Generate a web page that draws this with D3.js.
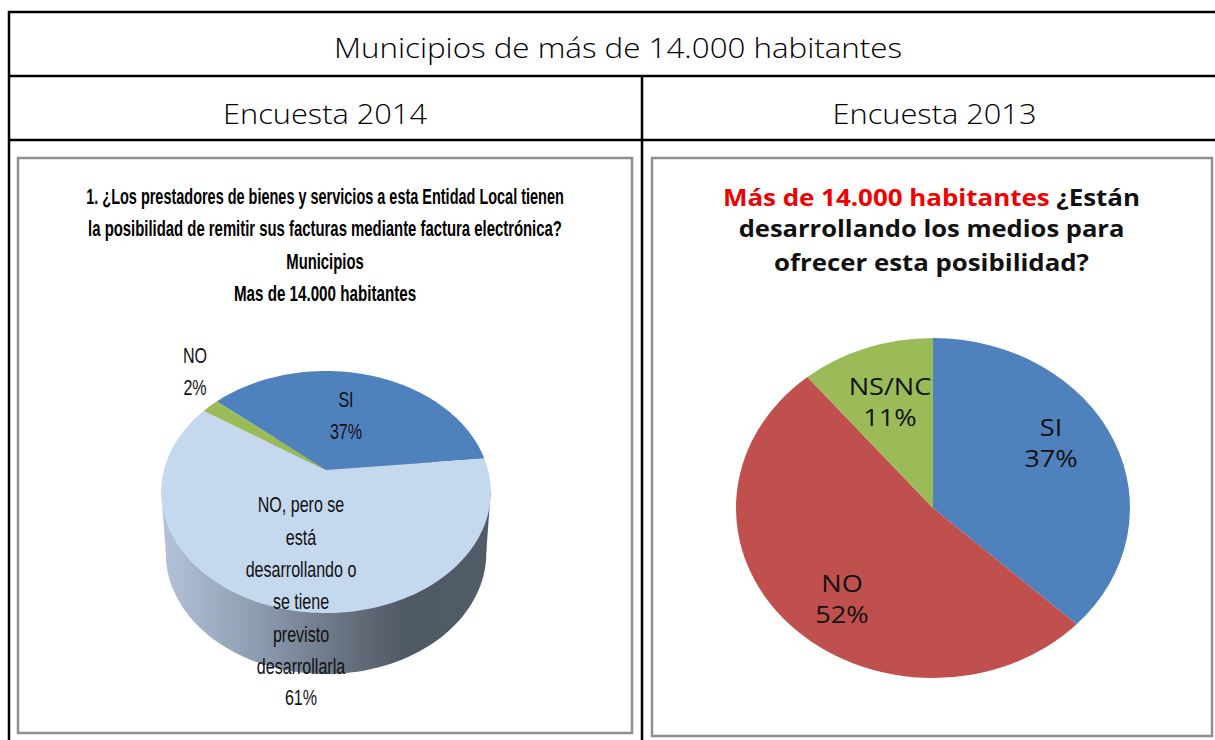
<!DOCTYPE html>
<html><head><meta charset="utf-8">
<script src="https://cdn.jsdelivr.net/npm/d3@7"></script>
<style>html,body{margin:0;padding:0;background:#fff;overflow:hidden}svg{display:block}</style>
</head><body><svg id="c" width="1215" height="740"></svg>
<script>
const heading = "Municipios de más de 14.000 habitantes";
const columns = ["Encuesta 2014", "Encuesta 2013"];
const leftTitle = ["1. ¿Los prestadores de bienes y servicios a esta Entidad Local tienen",
  "la posibilidad de remitir sus facturas mediante factura electrónica?", "Municipios", "Mas de 14.000 habitantes"];
const leftCategories = ["SI", "NO, pero se está desarrollando o se tiene previsto desarrollarla", "NO"];
const leftValues = [37, 61, 2];
const leftColors = ["#4f81bd", "#c4d8ee", "#9bbb59"];
const rightCategories = ["SI", "NO", "NS/NC"];
const rightValues = [37, 52, 11];
const rightColors = ["#4f81bd", "#c0504d", "#9bbb59"];

const svg = d3.select("#c");
const defs = svg.append("defs");
const grad = defs.append("linearGradient").attr("id", "wall");
[[0,"#b4c3da"],[0.3,"#8d9bb0"],[0.62,"#5f6874"],[0.75,"#4f5964"],[1,"#525c68"]].forEach(([o,c]) =>
  grad.append("stop").attr("offset", o).attr("stop-color", c));

function txt(x, y, s, size, opt = {}) {
  return svg.append("text")
    .attr("transform", `translate(${x},${y}) scale(${opt.sx || 1},1)`)
    .attr("text-anchor", "middle").attr("dominant-baseline", "central")
    .attr("font-family", opt.font || "Liberation Sans")
    .attr("font-size", size).attr("font-weight", opt.weight || 400)
    .attr("fill", opt.fill || "#000").text(s);
}

// table
const line = (x1,y1,x2,y2) => svg.append("line").attr("x1",x1).attr("y1",y1).attr("x2",x2).attr("y2",y2)
  .attr("stroke","#000").attr("stroke-width",2.5);
[12,76,140].forEach(y => line(8,y,1215,y));
line(9,11,9,740); line(642,76,642,740);
const hf = "Open Sans";
txt(618, 48, heading, 27, {font: hf, weight: 300, sx: 1.16});
txt(325, 113, columns[0], 27, {font: hf, weight: 300, sx: 1.14});
txt(934.5, 113, columns[1], 27, {font: hf, weight: 300, sx: 1.14});

// chart frames
[[18,158,614,575],[652,158,560,578]].forEach(([x,y,w,h]) =>
  svg.append("rect").attr("x",x).attr("y",y).attr("width",w).attr("height",h)
    .attr("fill","#fff").attr("stroke","#8f8f8f").attr("stroke-width",2.5));

// left 3D pie
const P = {cx:326, cy:470, R:162, S:117, k:0.182};
const proj = (a, r=1) => {
  const u = r*Math.sin(a), v = -r*Math.cos(a), w = 1 - P.k*v;
  return [P.cx + P.R*u/w, P.cy + P.S*v/w];
};
const startA = -49*Math.PI/180;
const leftArcs = d3.pie().sort(null).startAngle(startA).endAngle(startA+2*Math.PI)(leftValues);
const depth = 61;
const lineGen = d3.line();
const all = d3.range(0, 361, 2).map(d => d*Math.PI/180);
const rim = all.map(a => proj(a));
const low = rim.map(([x,y]) => [P.cx + (x-P.cx)*0.973, y + depth]);
const gWall = svg.append("g");
gWall.append("path").attr("d", lineGen(low)+"Z").attr("fill","url(#wall)");
const l0 = d3.least(rim, d => d[0]), r0 = d3.greatest(rim, d => d[0]);
const l1 = d3.least(low, d => d[0]), r1 = d3.greatest(low, d => d[0]);
gWall.append("path").attr("d", lineGen([l0,r0,r1,l1])+"Z").attr("fill","url(#wall)");
grad.attr("gradientUnits","userSpaceOnUse").attr("x1",l0[0]).attr("x2",r0[0]).attr("y1",0).attr("y2",0);

svg.append("g").selectAll("path").data(leftArcs).join("path")
  .attr("d", d => {
    const n = Math.max(2, Math.ceil((d.endAngle-d.startAngle)/0.02));
    const pts = d3.range(n+1).map(i => proj(d.startAngle + (d.endAngle-d.startAngle)*i/n));
    return lineGen([[P.cx,P.cy], ...pts]) + "Z";
  })
  .attr("fill", (d,i) => leftColors[i]);

// left texts
const sx = 0.73;
const tScales = [0.658, 0.677, 0.675, 0.69];
[196,228,261,293].forEach((y,i) => txt(325, y, leftTitle[i], 22, {weight:700, sx:tScales[i]}));
const midWrap = ["NO, pero se","está","desarrollando o","se tiene","previsto","desarrollarla"];
midWrap.forEach((s,i) => txt(301, 505 + i*32.3, s, 22, {sx, fill:"#111"}));
txt(301, 698, leftValues[1]+"%", 22, {sx, fill:"#111"});
txt(346, 400, leftCategories[0], 22, {sx, fill:"#111"});
txt(346, 432, leftValues[0]+"%", 22, {sx, fill:"#111"});
txt(195, 356, leftCategories[2], 22, {sx, fill:"#111"});
txt(195, 388, leftValues[2]+"%", 22, {sx, fill:"#111"});

// right pie
const rightArcs = d3.pie().sort(null)(rightValues);
const arc = d3.arc().innerRadius(0).outerRadius(170);
svg.append("g").attr("transform", `translate(933,508) scale(${197/170},1)`)
  .selectAll("path").data(rightArcs).join("path")
  .attr("d", arc).attr("fill", (d,i) => rightColors[i]);

// right title
const rf = "Open Sans";
const t1 = txt(931.5, 196, "", 24, {font:rf, weight:700, sx:1.08});
t1.append("tspan").attr("fill","#f00000").text("Más de 14.000 habitantes");
t1.append("tspan").attr("fill","#111").text(" ¿Están");
txt(931.5, 228, "desarrollando los medios para", 24, {font:rf, weight:700, sx:1.065, fill:"#111"});
txt(931.5, 261, "ofrecer esta posibilidad?", 24, {font:rf, weight:700, sx:1.075, fill:"#111"});

// right labels
const rs = 1.13, rOpt = {font:rf, sx:rs, fill:"#111"};
txt(890, 386, rightCategories[2], 24, rOpt);
txt(890, 417, rightValues[2]+"%", 24, rOpt);
txt(1051, 427, rightCategories[0], 24, rOpt);
txt(1051, 458, rightValues[0]+"%", 24, rOpt);
txt(842, 583, rightCategories[1], 24, rOpt);
txt(842, 614, rightValues[1]+"%", 24, rOpt);
</script></body></html>
